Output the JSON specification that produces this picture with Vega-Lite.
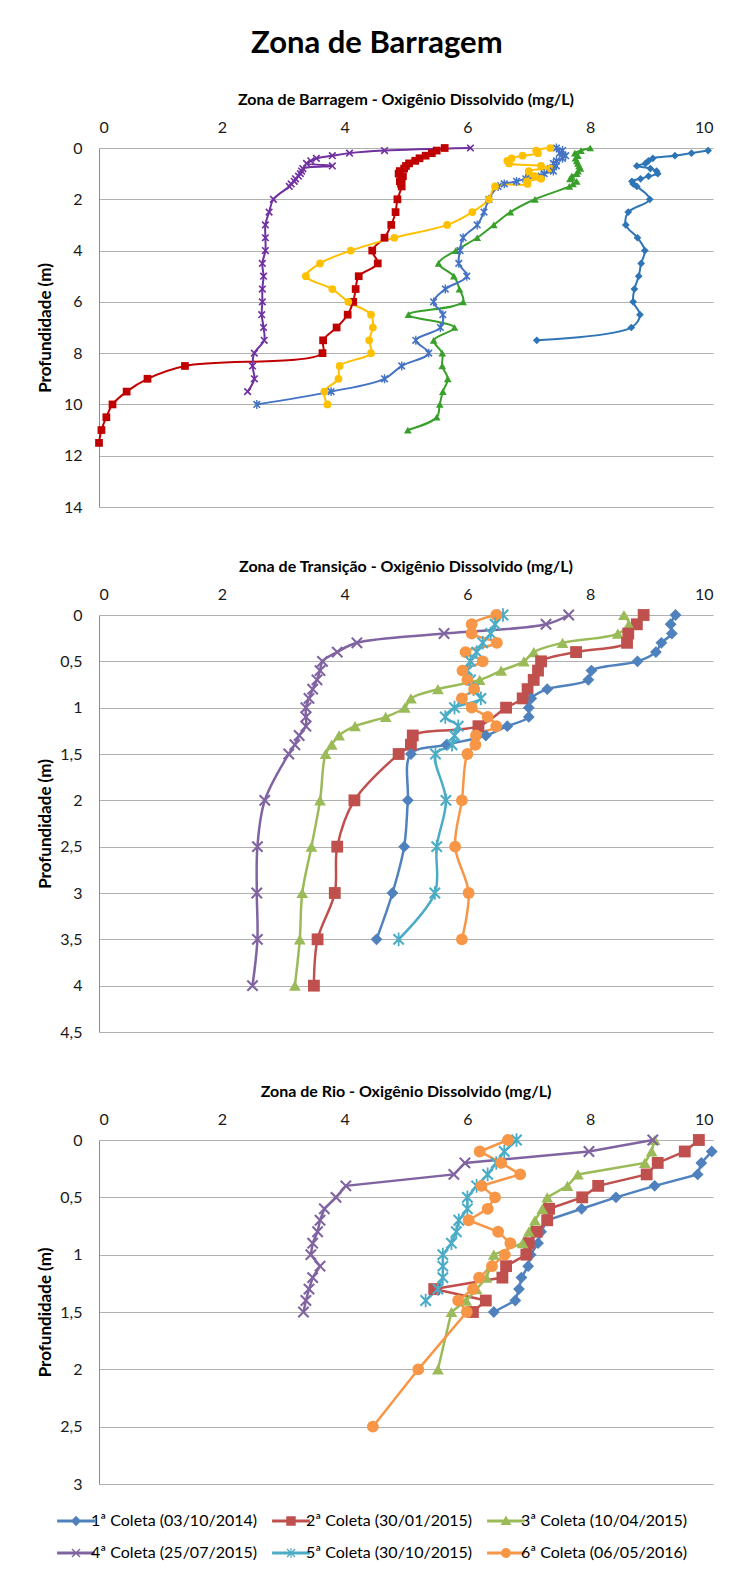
{
"$schema": "https://vega.github.io/schema/vega-lite/v6.json",
"padding": {"left": 36, "top": 28, "right": 10, "bottom": 10},
"title": {"text": "Zona de Barragem", "font": "Lato", "fontSize": 31, "fontWeight": "bold", "color": "#000", "anchor": "middle", "frame": "bounds", "offset": 32},
"spacing": 44,
"resolve": {"scale": {"color": "independent", "shape": "independent"}},
"datasets": {
"barragem": [
{"s":"1ª Coleta (03/10/2014)","p":0.1,"v":9.92},{"s":"1ª Coleta (03/10/2014)","p":0.2,"v":9.65},{"s":"1ª Coleta (03/10/2014)","p":0.3,"v":9.38},{"s":"1ª Coleta (03/10/2014)","p":0.4,"v":9.02},{"s":"1ª Coleta (03/10/2014)","p":0.5,"v":8.95},{"s":"1ª Coleta (03/10/2014)","p":0.6,"v":8.9},{"s":"1ª Coleta (03/10/2014)","p":0.7,"v":8.76},{"s":"1ª Coleta (03/10/2014)","p":0.8,"v":8.98},{"s":"1ª Coleta (03/10/2014)","p":0.9,"v":9.08},{"s":"1ª Coleta (03/10/2014)","p":1.0,"v":9.1},{"s":"1ª Coleta (03/10/2014)","p":1.1,"v":8.95},{"s":"1ª Coleta (03/10/2014)","p":1.2,"v":8.82},{"s":"1ª Coleta (03/10/2014)","p":1.3,"v":8.68},{"s":"1ª Coleta (03/10/2014)","p":1.4,"v":8.7},{"s":"1ª Coleta (03/10/2014)","p":1.5,"v":8.76},{"s":"1ª Coleta (03/10/2014)","p":2.0,"v":8.97},{"s":"1ª Coleta (03/10/2014)","p":2.5,"v":8.62},{"s":"1ª Coleta (03/10/2014)","p":3.0,"v":8.58},{"s":"1ª Coleta (03/10/2014)","p":3.5,"v":8.77},{"s":"1ª Coleta (03/10/2014)","p":4.0,"v":8.89},{"s":"1ª Coleta (03/10/2014)","p":4.5,"v":8.83},{"s":"1ª Coleta (03/10/2014)","p":5.0,"v":8.79},{"s":"1ª Coleta (03/10/2014)","p":5.5,"v":8.72},{"s":"1ª Coleta (03/10/2014)","p":6.0,"v":8.7},{"s":"1ª Coleta (03/10/2014)","p":6.5,"v":8.81},{"s":"1ª Coleta (03/10/2014)","p":7.0,"v":8.67},{"s":"1ª Coleta (03/10/2014)","p":7.5,"v":7.13},
{"s":"2ª Coleta (30/01/2015)","p":0,"v":5.63},{"s":"2ª Coleta (30/01/2015)","p":0.1,"v":5.5},{"s":"2ª Coleta (30/01/2015)","p":0.2,"v":5.42},{"s":"2ª Coleta (30/01/2015)","p":0.3,"v":5.32},{"s":"2ª Coleta (30/01/2015)","p":0.4,"v":5.22},{"s":"2ª Coleta (30/01/2015)","p":0.5,"v":5.15},{"s":"2ª Coleta (30/01/2015)","p":0.6,"v":5.05},{"s":"2ª Coleta (30/01/2015)","p":0.7,"v":5.0},{"s":"2ª Coleta (30/01/2015)","p":0.8,"v":4.97},{"s":"2ª Coleta (30/01/2015)","p":0.9,"v":4.9},{"s":"2ª Coleta (30/01/2015)","p":1.0,"v":4.88},{"s":"2ª Coleta (30/01/2015)","p":1.1,"v":4.95},{"s":"2ª Coleta (30/01/2015)","p":1.2,"v":4.93},{"s":"2ª Coleta (30/01/2015)","p":1.3,"v":4.9},{"s":"2ª Coleta (30/01/2015)","p":1.4,"v":4.92},{"s":"2ª Coleta (30/01/2015)","p":1.5,"v":4.93},{"s":"2ª Coleta (30/01/2015)","p":2.0,"v":4.86},{"s":"2ª Coleta (30/01/2015)","p":2.5,"v":4.83},{"s":"2ª Coleta (30/01/2015)","p":3.0,"v":4.76},{"s":"2ª Coleta (30/01/2015)","p":3.5,"v":4.65},{"s":"2ª Coleta (30/01/2015)","p":4.0,"v":4.45},{"s":"2ª Coleta (30/01/2015)","p":4.5,"v":4.54},{"s":"2ª Coleta (30/01/2015)","p":5.0,"v":4.23},{"s":"2ª Coleta (30/01/2015)","p":5.5,"v":4.18},{"s":"2ª Coleta (30/01/2015)","p":6.0,"v":4.14},{"s":"2ª Coleta (30/01/2015)","p":6.5,"v":4.05},{"s":"2ª Coleta (30/01/2015)","p":7.0,"v":3.87},{"s":"2ª Coleta (30/01/2015)","p":7.5,"v":3.65},{"s":"2ª Coleta (30/01/2015)","p":8.0,"v":3.64},{"s":"2ª Coleta (30/01/2015)","p":8.5,"v":1.4},{"s":"2ª Coleta (30/01/2015)","p":9.0,"v":0.79},{"s":"2ª Coleta (30/01/2015)","p":9.5,"v":0.45},{"s":"2ª Coleta (30/01/2015)","p":10.0,"v":0.22},{"s":"2ª Coleta (30/01/2015)","p":10.5,"v":0.12},{"s":"2ª Coleta (30/01/2015)","p":11.0,"v":0.04},{"s":"2ª Coleta (30/01/2015)","p":11.5,"v":0.0},
{"s":"3ª Coleta (10/04/2015)","p":0,"v":8.0},{"s":"3ª Coleta (10/04/2015)","p":0.1,"v":7.85},{"s":"3ª Coleta (10/04/2015)","p":0.2,"v":7.75},{"s":"3ª Coleta (10/04/2015)","p":0.3,"v":7.8},{"s":"3ª Coleta (10/04/2015)","p":0.4,"v":7.76},{"s":"3ª Coleta (10/04/2015)","p":0.5,"v":7.78},{"s":"3ª Coleta (10/04/2015)","p":0.6,"v":7.8},{"s":"3ª Coleta (10/04/2015)","p":0.7,"v":7.82},{"s":"3ª Coleta (10/04/2015)","p":0.8,"v":7.84},{"s":"3ª Coleta (10/04/2015)","p":0.9,"v":7.8},{"s":"3ª Coleta (10/04/2015)","p":1.0,"v":7.78},{"s":"3ª Coleta (10/04/2015)","p":1.1,"v":7.7},{"s":"3ª Coleta (10/04/2015)","p":1.2,"v":7.67},{"s":"3ª Coleta (10/04/2015)","p":1.3,"v":7.78},{"s":"3ª Coleta (10/04/2015)","p":1.4,"v":7.72},{"s":"3ª Coleta (10/04/2015)","p":1.5,"v":7.66},{"s":"3ª Coleta (10/04/2015)","p":2.0,"v":7.1},{"s":"3ª Coleta (10/04/2015)","p":2.5,"v":6.7},{"s":"3ª Coleta (10/04/2015)","p":3.0,"v":6.43},{"s":"3ª Coleta (10/04/2015)","p":3.5,"v":6.16},{"s":"3ª Coleta (10/04/2015)","p":4.0,"v":5.81},{"s":"3ª Coleta (10/04/2015)","p":4.5,"v":5.53},{"s":"3ª Coleta (10/04/2015)","p":5.0,"v":5.78},{"s":"3ª Coleta (10/04/2015)","p":5.5,"v":5.87},{"s":"3ª Coleta (10/04/2015)","p":6.0,"v":5.93},{"s":"3ª Coleta (10/04/2015)","p":6.5,"v":5.04},{"s":"3ª Coleta (10/04/2015)","p":7.0,"v":5.79},{"s":"3ª Coleta (10/04/2015)","p":7.5,"v":5.45},{"s":"3ª Coleta (10/04/2015)","p":8.0,"v":5.59},{"s":"3ª Coleta (10/04/2015)","p":8.5,"v":5.59},{"s":"3ª Coleta (10/04/2015)","p":9.0,"v":5.68},{"s":"3ª Coleta (10/04/2015)","p":9.5,"v":5.6},{"s":"3ª Coleta (10/04/2015)","p":10.0,"v":5.55},{"s":"3ª Coleta (10/04/2015)","p":10.5,"v":5.5},{"s":"3ª Coleta (10/04/2015)","p":11.0,"v":5.03},
{"s":"4ª Coleta (25/07/2015)","p":0,"v":6.05},{"s":"4ª Coleta (25/07/2015)","p":0.1,"v":4.65},{"s":"4ª Coleta (25/07/2015)","p":0.2,"v":4.08},{"s":"4ª Coleta (25/07/2015)","p":0.3,"v":3.8},{"s":"4ª Coleta (25/07/2015)","p":0.4,"v":3.54},{"s":"4ª Coleta (25/07/2015)","p":0.5,"v":3.45},{"s":"4ª Coleta (25/07/2015)","p":0.6,"v":3.38},{"s":"4ª Coleta (25/07/2015)","p":0.7,"v":3.8},{"s":"4ª Coleta (25/07/2015)","p":0.8,"v":3.32},{"s":"4ª Coleta (25/07/2015)","p":0.9,"v":3.3},{"s":"4ª Coleta (25/07/2015)","p":1.0,"v":3.28},{"s":"4ª Coleta (25/07/2015)","p":1.1,"v":3.25},{"s":"4ª Coleta (25/07/2015)","p":1.2,"v":3.2},{"s":"4ª Coleta (25/07/2015)","p":1.3,"v":3.18},{"s":"4ª Coleta (25/07/2015)","p":1.4,"v":3.13},{"s":"4ª Coleta (25/07/2015)","p":1.5,"v":3.1},{"s":"4ª Coleta (25/07/2015)","p":2.0,"v":2.84},{"s":"4ª Coleta (25/07/2015)","p":2.5,"v":2.77},{"s":"4ª Coleta (25/07/2015)","p":3.0,"v":2.71},{"s":"4ª Coleta (25/07/2015)","p":3.5,"v":2.71},{"s":"4ª Coleta (25/07/2015)","p":4.0,"v":2.71},{"s":"4ª Coleta (25/07/2015)","p":4.5,"v":2.66},{"s":"4ª Coleta (25/07/2015)","p":5.0,"v":2.68},{"s":"4ª Coleta (25/07/2015)","p":5.5,"v":2.66},{"s":"4ª Coleta (25/07/2015)","p":6.0,"v":2.66},{"s":"4ª Coleta (25/07/2015)","p":6.5,"v":2.65},{"s":"4ª Coleta (25/07/2015)","p":7.0,"v":2.68},{"s":"4ª Coleta (25/07/2015)","p":7.5,"v":2.69},{"s":"4ª Coleta (25/07/2015)","p":8.0,"v":2.53},{"s":"4ª Coleta (25/07/2015)","p":8.5,"v":2.5},{"s":"4ª Coleta (25/07/2015)","p":9.0,"v":2.53},{"s":"4ª Coleta (25/07/2015)","p":9.5,"v":2.42},
{"s":"5ª Coleta (30/10/2015)","p":0,"v":7.45},{"s":"5ª Coleta (30/10/2015)","p":0.1,"v":7.55},{"s":"5ª Coleta (30/10/2015)","p":0.2,"v":7.5},{"s":"5ª Coleta (30/10/2015)","p":0.3,"v":7.6},{"s":"5ª Coleta (30/10/2015)","p":0.4,"v":7.55},{"s":"5ª Coleta (30/10/2015)","p":0.5,"v":7.45},{"s":"5ª Coleta (30/10/2015)","p":0.6,"v":7.4},{"s":"5ª Coleta (30/10/2015)","p":0.7,"v":7.45},{"s":"5ª Coleta (30/10/2015)","p":0.8,"v":7.35},{"s":"5ª Coleta (30/10/2015)","p":0.9,"v":7.4},{"s":"5ª Coleta (30/10/2015)","p":1.0,"v":7.25},{"s":"5ª Coleta (30/10/2015)","p":1.1,"v":7.2},{"s":"5ª Coleta (30/10/2015)","p":1.2,"v":6.95},{"s":"5ª Coleta (30/10/2015)","p":1.3,"v":6.8},{"s":"5ª Coleta (30/10/2015)","p":1.4,"v":6.6},{"s":"5ª Coleta (30/10/2015)","p":1.5,"v":6.5},{"s":"5ª Coleta (30/10/2015)","p":2.0,"v":6.35},{"s":"5ª Coleta (30/10/2015)","p":2.5,"v":6.27},{"s":"5ª Coleta (30/10/2015)","p":3.0,"v":6.16},{"s":"5ª Coleta (30/10/2015)","p":3.5,"v":5.93},{"s":"5ª Coleta (30/10/2015)","p":4.0,"v":5.88},{"s":"5ª Coleta (30/10/2015)","p":4.5,"v":5.86},{"s":"5ª Coleta (30/10/2015)","p":5.0,"v":5.99},{"s":"5ª Coleta (30/10/2015)","p":5.5,"v":5.64},{"s":"5ª Coleta (30/10/2015)","p":6.0,"v":5.45},{"s":"5ª Coleta (30/10/2015)","p":6.5,"v":5.6},{"s":"5ª Coleta (30/10/2015)","p":7.0,"v":5.56},{"s":"5ª Coleta (30/10/2015)","p":7.5,"v":5.16},{"s":"5ª Coleta (30/10/2015)","p":8.0,"v":5.37},{"s":"5ª Coleta (30/10/2015)","p":8.5,"v":4.93},{"s":"5ª Coleta (30/10/2015)","p":9.0,"v":4.65},{"s":"5ª Coleta (30/10/2015)","p":9.5,"v":3.78},{"s":"5ª Coleta (30/10/2015)","p":10.0,"v":2.57},
{"s":"6ª Coleta (06/05/2016)","p":0,"v":7.35},{"s":"6ª Coleta (06/05/2016)","p":0.1,"v":7.12},{"s":"6ª Coleta (06/05/2016)","p":0.2,"v":7.15},{"s":"6ª Coleta (06/05/2016)","p":0.3,"v":6.9},{"s":"6ª Coleta (06/05/2016)","p":0.4,"v":6.72},{"s":"6ª Coleta (06/05/2016)","p":0.5,"v":6.65},{"s":"6ª Coleta (06/05/2016)","p":0.6,"v":6.68},{"s":"6ª Coleta (06/05/2016)","p":0.7,"v":7.2},{"s":"6ª Coleta (06/05/2016)","p":0.8,"v":7.35},{"s":"6ª Coleta (06/05/2016)","p":0.9,"v":7.0},{"s":"6ª Coleta (06/05/2016)","p":1.0,"v":7.0},{"s":"6ª Coleta (06/05/2016)","p":1.1,"v":7.1},{"s":"6ª Coleta (06/05/2016)","p":1.2,"v":7.2},{"s":"6ª Coleta (06/05/2016)","p":1.3,"v":6.97},{"s":"6ª Coleta (06/05/2016)","p":1.4,"v":6.98},{"s":"6ª Coleta (06/05/2016)","p":1.5,"v":6.45},{"s":"6ª Coleta (06/05/2016)","p":2.0,"v":6.35},{"s":"6ª Coleta (06/05/2016)","p":2.5,"v":6.08},{"s":"6ª Coleta (06/05/2016)","p":3.0,"v":5.67},{"s":"6ª Coleta (06/05/2016)","p":3.5,"v":4.81},{"s":"6ª Coleta (06/05/2016)","p":4.0,"v":4.1},{"s":"6ª Coleta (06/05/2016)","p":4.5,"v":3.6},{"s":"6ª Coleta (06/05/2016)","p":5.0,"v":3.37},{"s":"6ª Coleta (06/05/2016)","p":5.5,"v":3.8},{"s":"6ª Coleta (06/05/2016)","p":6.0,"v":4.06},{"s":"6ª Coleta (06/05/2016)","p":6.5,"v":4.43},{"s":"6ª Coleta (06/05/2016)","p":7.0,"v":4.46},{"s":"6ª Coleta (06/05/2016)","p":7.5,"v":4.4},{"s":"6ª Coleta (06/05/2016)","p":8.0,"v":4.43},{"s":"6ª Coleta (06/05/2016)","p":8.5,"v":3.92},{"s":"6ª Coleta (06/05/2016)","p":9.0,"v":3.9},{"s":"6ª Coleta (06/05/2016)","p":9.5,"v":3.67},{"s":"6ª Coleta (06/05/2016)","p":10.0,"v":3.72}
],
"transicao": [
{"s":"1ª Coleta (03/10/2014)","p":0,"v":9.39},{"s":"1ª Coleta (03/10/2014)","p":0.1,"v":9.31},{"s":"1ª Coleta (03/10/2014)","p":0.2,"v":9.33},{"s":"1ª Coleta (03/10/2014)","p":0.3,"v":9.16},{"s":"1ª Coleta (03/10/2014)","p":0.4,"v":9.07},{"s":"1ª Coleta (03/10/2014)","p":0.5,"v":8.77},{"s":"1ª Coleta (03/10/2014)","p":0.6,"v":8.02},{"s":"1ª Coleta (03/10/2014)","p":0.7,"v":7.97},{"s":"1ª Coleta (03/10/2014)","p":0.8,"v":7.3},{"s":"1ª Coleta (03/10/2014)","p":0.9,"v":7.04},{"s":"1ª Coleta (03/10/2014)","p":1.0,"v":7.0},{"s":"1ª Coleta (03/10/2014)","p":1.1,"v":7.0},{"s":"1ª Coleta (03/10/2014)","p":1.2,"v":6.65},{"s":"1ª Coleta (03/10/2014)","p":1.3,"v":6.3},{"s":"1ª Coleta (03/10/2014)","p":1.4,"v":5.66},{"s":"1ª Coleta (03/10/2014)","p":1.5,"v":5.08},{"s":"1ª Coleta (03/10/2014)","p":2.0,"v":5.03},{"s":"1ª Coleta (03/10/2014)","p":2.5,"v":4.97},{"s":"1ª Coleta (03/10/2014)","p":3.0,"v":4.78},{"s":"1ª Coleta (03/10/2014)","p":3.5,"v":4.52},
{"s":"2ª Coleta (30/01/2015)","p":0,"v":8.87},{"s":"2ª Coleta (30/01/2015)","p":0.1,"v":8.76},{"s":"2ª Coleta (30/01/2015)","p":0.2,"v":8.62},{"s":"2ª Coleta (30/01/2015)","p":0.3,"v":8.6},{"s":"2ª Coleta (30/01/2015)","p":0.4,"v":7.77},{"s":"2ª Coleta (30/01/2015)","p":0.5,"v":7.2},{"s":"2ª Coleta (30/01/2015)","p":0.6,"v":7.15},{"s":"2ª Coleta (30/01/2015)","p":0.7,"v":7.08},{"s":"2ª Coleta (30/01/2015)","p":0.8,"v":6.98},{"s":"2ª Coleta (30/01/2015)","p":0.9,"v":6.9},{"s":"2ª Coleta (30/01/2015)","p":1.0,"v":6.63},{"s":"2ª Coleta (30/01/2015)","p":1.2,"v":6.18},{"s":"2ª Coleta (30/01/2015)","p":1.3,"v":5.11},{"s":"2ª Coleta (30/01/2015)","p":1.4,"v":5.08},{"s":"2ª Coleta (30/01/2015)","p":1.5,"v":4.88},{"s":"2ª Coleta (30/01/2015)","p":2.0,"v":4.16},{"s":"2ª Coleta (30/01/2015)","p":2.5,"v":3.88},{"s":"2ª Coleta (30/01/2015)","p":3.0,"v":3.84},{"s":"2ª Coleta (30/01/2015)","p":3.5,"v":3.56},{"s":"2ª Coleta (30/01/2015)","p":4.0,"v":3.5},
{"s":"3ª Coleta (10/04/2015)","p":0,"v":8.55},{"s":"3ª Coleta (10/04/2015)","p":0.1,"v":8.63},{"s":"3ª Coleta (10/04/2015)","p":0.2,"v":8.45},{"s":"3ª Coleta (10/04/2015)","p":0.3,"v":7.55},{"s":"3ª Coleta (10/04/2015)","p":0.4,"v":7.08},{"s":"3ª Coleta (10/04/2015)","p":0.5,"v":6.92},{"s":"3ª Coleta (10/04/2015)","p":0.6,"v":6.55},{"s":"3ª Coleta (10/04/2015)","p":0.7,"v":6.2},{"s":"3ª Coleta (10/04/2015)","p":0.8,"v":5.52},{"s":"3ª Coleta (10/04/2015)","p":0.9,"v":5.08},{"s":"3ª Coleta (10/04/2015)","p":1.0,"v":4.98},{"s":"3ª Coleta (10/04/2015)","p":1.1,"v":4.67},{"s":"3ª Coleta (10/04/2015)","p":1.2,"v":4.17},{"s":"3ª Coleta (10/04/2015)","p":1.3,"v":3.91},{"s":"3ª Coleta (10/04/2015)","p":1.4,"v":3.79},{"s":"3ª Coleta (10/04/2015)","p":1.5,"v":3.69},{"s":"3ª Coleta (10/04/2015)","p":2.0,"v":3.6},{"s":"3ª Coleta (10/04/2015)","p":2.5,"v":3.46},{"s":"3ª Coleta (10/04/2015)","p":3.0,"v":3.31},{"s":"3ª Coleta (10/04/2015)","p":3.5,"v":3.27},{"s":"3ª Coleta (10/04/2015)","p":4.0,"v":3.19},
{"s":"4ª Coleta (25/07/2015)","p":0,"v":7.65},{"s":"4ª Coleta (25/07/2015)","p":0.1,"v":7.28},{"s":"4ª Coleta (25/07/2015)","p":0.2,"v":5.62},{"s":"4ª Coleta (25/07/2015)","p":0.3,"v":4.2},{"s":"4ª Coleta (25/07/2015)","p":0.4,"v":3.88},{"s":"4ª Coleta (25/07/2015)","p":0.5,"v":3.64},{"s":"4ª Coleta (25/07/2015)","p":0.6,"v":3.6},{"s":"4ª Coleta (25/07/2015)","p":0.7,"v":3.55},{"s":"4ª Coleta (25/07/2015)","p":0.8,"v":3.48},{"s":"4ª Coleta (25/07/2015)","p":0.9,"v":3.42},{"s":"4ª Coleta (25/07/2015)","p":1.0,"v":3.37},{"s":"4ª Coleta (25/07/2015)","p":1.1,"v":3.37},{"s":"4ª Coleta (25/07/2015)","p":1.2,"v":3.37},{"s":"4ª Coleta (25/07/2015)","p":1.3,"v":3.26},{"s":"4ª Coleta (25/07/2015)","p":1.4,"v":3.19},{"s":"4ª Coleta (25/07/2015)","p":1.5,"v":3.09},{"s":"4ª Coleta (25/07/2015)","p":2.0,"v":2.7},{"s":"4ª Coleta (25/07/2015)","p":2.5,"v":2.58},{"s":"4ª Coleta (25/07/2015)","p":3.0,"v":2.57},{"s":"4ª Coleta (25/07/2015)","p":3.5,"v":2.58},{"s":"4ª Coleta (25/07/2015)","p":4.0,"v":2.5},
{"s":"5ª Coleta (30/10/2015)","p":0,"v":6.58},{"s":"5ª Coleta (30/10/2015)","p":0.1,"v":6.45},{"s":"5ª Coleta (30/10/2015)","p":0.2,"v":6.38},{"s":"5ª Coleta (30/10/2015)","p":0.3,"v":6.25},{"s":"5ª Coleta (30/10/2015)","p":0.4,"v":6.15},{"s":"5ª Coleta (30/10/2015)","p":0.5,"v":6.05},{"s":"5ª Coleta (30/10/2015)","p":0.6,"v":6.0},{"s":"5ª Coleta (30/10/2015)","p":0.7,"v":6.05},{"s":"5ª Coleta (30/10/2015)","p":0.8,"v":6.1},{"s":"5ª Coleta (30/10/2015)","p":0.9,"v":6.22},{"s":"5ª Coleta (30/10/2015)","p":1.0,"v":5.79},{"s":"5ª Coleta (30/10/2015)","p":1.1,"v":5.64},{"s":"5ª Coleta (30/10/2015)","p":1.2,"v":5.85},{"s":"5ª Coleta (30/10/2015)","p":1.3,"v":5.79},{"s":"5ª Coleta (30/10/2015)","p":1.4,"v":5.75},{"s":"5ª Coleta (30/10/2015)","p":1.5,"v":5.48},{"s":"5ª Coleta (30/10/2015)","p":2.0,"v":5.65},{"s":"5ª Coleta (30/10/2015)","p":2.5,"v":5.5},{"s":"5ª Coleta (30/10/2015)","p":3.0,"v":5.47},{"s":"5ª Coleta (30/10/2015)","p":3.5,"v":4.88},
{"s":"6ª Coleta (06/05/2016)","p":0,"v":6.47},{"s":"6ª Coleta (06/05/2016)","p":0.1,"v":6.07},{"s":"6ª Coleta (06/05/2016)","p":0.2,"v":6.07},{"s":"6ª Coleta (06/05/2016)","p":0.3,"v":6.48},{"s":"6ª Coleta (06/05/2016)","p":0.4,"v":5.97},{"s":"6ª Coleta (06/05/2016)","p":0.5,"v":6.25},{"s":"6ª Coleta (06/05/2016)","p":0.6,"v":5.92},{"s":"6ª Coleta (06/05/2016)","p":0.7,"v":6.0},{"s":"6ª Coleta (06/05/2016)","p":0.8,"v":6.11},{"s":"6ª Coleta (06/05/2016)","p":0.9,"v":5.91},{"s":"6ª Coleta (06/05/2016)","p":1.0,"v":6.07},{"s":"6ª Coleta (06/05/2016)","p":1.1,"v":6.33},{"s":"6ª Coleta (06/05/2016)","p":1.2,"v":6.47},{"s":"6ª Coleta (06/05/2016)","p":1.3,"v":6.14},{"s":"6ª Coleta (06/05/2016)","p":1.4,"v":6.13},{"s":"6ª Coleta (06/05/2016)","p":1.5,"v":6.0},{"s":"6ª Coleta (06/05/2016)","p":2.0,"v":5.91},{"s":"6ª Coleta (06/05/2016)","p":2.5,"v":5.8},{"s":"6ª Coleta (06/05/2016)","p":3.0,"v":6.02},{"s":"6ª Coleta (06/05/2016)","p":3.5,"v":5.91}
],
"rio": [
{"s":"1ª Coleta (03/10/2014)","p":0.1,"v":9.98},{"s":"1ª Coleta (03/10/2014)","p":0.2,"v":9.81},{"s":"1ª Coleta (03/10/2014)","p":0.3,"v":9.75},{"s":"1ª Coleta (03/10/2014)","p":0.4,"v":9.05},{"s":"1ª Coleta (03/10/2014)","p":0.5,"v":8.42},{"s":"1ª Coleta (03/10/2014)","p":0.6,"v":7.86},{"s":"1ª Coleta (03/10/2014)","p":0.7,"v":7.3},{"s":"1ª Coleta (03/10/2014)","p":0.8,"v":7.2},{"s":"1ª Coleta (03/10/2014)","p":0.9,"v":7.15},{"s":"1ª Coleta (03/10/2014)","p":1.0,"v":7.03},{"s":"1ª Coleta (03/10/2014)","p":1.1,"v":6.99},{"s":"1ª Coleta (03/10/2014)","p":1.2,"v":6.88},{"s":"1ª Coleta (03/10/2014)","p":1.3,"v":6.84},{"s":"1ª Coleta (03/10/2014)","p":1.4,"v":6.78},{"s":"1ª Coleta (03/10/2014)","p":1.5,"v":6.43},
{"s":"2ª Coleta (30/01/2015)","p":0,"v":9.77},{"s":"2ª Coleta (30/01/2015)","p":0.1,"v":9.54},{"s":"2ª Coleta (30/01/2015)","p":0.2,"v":9.1},{"s":"2ª Coleta (30/01/2015)","p":0.3,"v":8.92},{"s":"2ª Coleta (30/01/2015)","p":0.4,"v":8.13},{"s":"2ª Coleta (30/01/2015)","p":0.5,"v":7.87},{"s":"2ª Coleta (30/01/2015)","p":0.6,"v":7.33},{"s":"2ª Coleta (30/01/2015)","p":0.7,"v":7.3},{"s":"2ª Coleta (30/01/2015)","p":0.8,"v":7.13},{"s":"2ª Coleta (30/01/2015)","p":0.9,"v":7.0},{"s":"2ª Coleta (30/01/2015)","p":1.0,"v":6.96},{"s":"2ª Coleta (30/01/2015)","p":1.1,"v":6.63},{"s":"2ª Coleta (30/01/2015)","p":1.2,"v":6.57},{"s":"2ª Coleta (30/01/2015)","p":1.3,"v":5.46},{"s":"2ª Coleta (30/01/2015)","p":1.4,"v":6.3},{"s":"2ª Coleta (30/01/2015)","p":1.5,"v":6.09},
{"s":"3ª Coleta (10/04/2015)","p":0,"v":9.05},{"s":"3ª Coleta (10/04/2015)","p":0.1,"v":9.0},{"s":"3ª Coleta (10/04/2015)","p":0.2,"v":8.89},{"s":"3ª Coleta (10/04/2015)","p":0.3,"v":7.8},{"s":"3ª Coleta (10/04/2015)","p":0.4,"v":7.63},{"s":"3ª Coleta (10/04/2015)","p":0.5,"v":7.3},{"s":"3ª Coleta (10/04/2015)","p":0.6,"v":7.22},{"s":"3ª Coleta (10/04/2015)","p":0.7,"v":7.1},{"s":"3ª Coleta (10/04/2015)","p":0.8,"v":7.0},{"s":"3ª Coleta (10/04/2015)","p":0.9,"v":6.9},{"s":"3ª Coleta (10/04/2015)","p":1.0,"v":6.43},{"s":"3ª Coleta (10/04/2015)","p":1.1,"v":6.38},{"s":"3ª Coleta (10/04/2015)","p":1.2,"v":6.31},{"s":"3ª Coleta (10/04/2015)","p":1.3,"v":6.15},{"s":"3ª Coleta (10/04/2015)","p":1.4,"v":5.98},{"s":"3ª Coleta (10/04/2015)","p":1.5,"v":5.74},{"s":"3ª Coleta (10/04/2015)","p":2.0,"v":5.52},
{"s":"4ª Coleta (25/07/2015)","p":0,"v":9.02},{"s":"4ª Coleta (25/07/2015)","p":0.1,"v":7.98},{"s":"4ª Coleta (25/07/2015)","p":0.2,"v":5.96},{"s":"4ª Coleta (25/07/2015)","p":0.3,"v":5.78},{"s":"4ª Coleta (25/07/2015)","p":0.4,"v":4.02},{"s":"4ª Coleta (25/07/2015)","p":0.5,"v":3.86},{"s":"4ª Coleta (25/07/2015)","p":0.6,"v":3.67},{"s":"4ª Coleta (25/07/2015)","p":0.7,"v":3.6},{"s":"4ª Coleta (25/07/2015)","p":0.8,"v":3.56},{"s":"4ª Coleta (25/07/2015)","p":0.9,"v":3.48},{"s":"4ª Coleta (25/07/2015)","p":1.0,"v":3.45},{"s":"4ª Coleta (25/07/2015)","p":1.1,"v":3.6},{"s":"4ª Coleta (25/07/2015)","p":1.2,"v":3.48},{"s":"4ª Coleta (25/07/2015)","p":1.3,"v":3.42},{"s":"4ª Coleta (25/07/2015)","p":1.4,"v":3.37},{"s":"4ª Coleta (25/07/2015)","p":1.5,"v":3.33},
{"s":"5ª Coleta (30/10/2015)","p":0,"v":6.8},{"s":"5ª Coleta (30/10/2015)","p":0.1,"v":6.6},{"s":"5ª Coleta (30/10/2015)","p":0.2,"v":6.47},{"s":"5ª Coleta (30/10/2015)","p":0.3,"v":6.33},{"s":"5ª Coleta (30/10/2015)","p":0.4,"v":6.15},{"s":"5ª Coleta (30/10/2015)","p":0.5,"v":6.0},{"s":"5ª Coleta (30/10/2015)","p":0.6,"v":6.0},{"s":"5ª Coleta (30/10/2015)","p":0.7,"v":5.86},{"s":"5ª Coleta (30/10/2015)","p":0.8,"v":5.82},{"s":"5ª Coleta (30/10/2015)","p":0.9,"v":5.74},{"s":"5ª Coleta (30/10/2015)","p":1.0,"v":5.6},{"s":"5ª Coleta (30/10/2015)","p":1.1,"v":5.6},{"s":"5ª Coleta (30/10/2015)","p":1.2,"v":5.6},{"s":"5ª Coleta (30/10/2015)","p":1.3,"v":5.52},{"s":"5ª Coleta (30/10/2015)","p":1.4,"v":5.32},
{"s":"6ª Coleta (06/05/2016)","p":0,"v":6.66},{"s":"6ª Coleta (06/05/2016)","p":0.1,"v":6.2},{"s":"6ª Coleta (06/05/2016)","p":0.2,"v":6.55},{"s":"6ª Coleta (06/05/2016)","p":0.3,"v":6.86},{"s":"6ª Coleta (06/05/2016)","p":0.4,"v":6.23},{"s":"6ª Coleta (06/05/2016)","p":0.5,"v":6.45},{"s":"6ª Coleta (06/05/2016)","p":0.6,"v":6.33},{"s":"6ª Coleta (06/05/2016)","p":0.7,"v":6.02},{"s":"6ª Coleta (06/05/2016)","p":0.8,"v":6.5},{"s":"6ª Coleta (06/05/2016)","p":0.9,"v":6.7},{"s":"6ª Coleta (06/05/2016)","p":1.0,"v":6.61},{"s":"6ª Coleta (06/05/2016)","p":1.1,"v":6.4},{"s":"6ª Coleta (06/05/2016)","p":1.2,"v":6.19},{"s":"6ª Coleta (06/05/2016)","p":1.3,"v":6.09},{"s":"6ª Coleta (06/05/2016)","p":1.4,"v":5.85},{"s":"6ª Coleta (06/05/2016)","p":1.5,"v":5.99},{"s":"6ª Coleta (06/05/2016)","p":2.0,"v":5.2},{"s":"6ª Coleta (06/05/2016)","p":2.5,"v":4.46}
]
},
"vconcat": [
{
"width": 614, "height": 359,
"data": {"name": "barragem"},
"title": {"text": "Zona de Barragem - Oxigênio Dissolvido (mg/L)"},
"encoding": {
"x": {"field": "v", "type": "quantitative", "scale": {"domain": [0, 10], "nice": false, "zero": false}, "axis": {"orient": "top", "values": [0,2,4,6,8,10], "title": null}},
"y": {"field": "p", "type": "quantitative", "scale": {"domain": [0, 14], "reverse": true, "nice": false}, "axis": {"values": [0,2,4,6,8,10,12,14], "title": "Profundidade (m)", "labelExpr": "replace(toString(datum.value), '.', ',')"}},
"color": {"field": "s", "type": "nominal", "scale": {"domain": ["1ª Coleta (03/10/2014)","2ª Coleta (30/01/2015)","3ª Coleta (10/04/2015)","4ª Coleta (25/07/2015)","5ª Coleta (30/10/2015)","6ª Coleta (06/05/2016)"], "range": ["#2E75B6","#C00000","#38A02A","#7030A0","#4472C4","#FFC000"]}, "legend": null},
"order": {"field": "p", "type": "quantitative"}
},
"layer": [
{"mark": {"type": "line", "interpolate": "catmull-rom", "strokeWidth": 2}},
{"mark": {"type": "point", "filled": true, "size": 60, "opacity": 1},
 "encoding": {"shape": {"field": "s", "type": "nominal", "scale": {"domain": ["1ª Coleta (03/10/2014)","2ª Coleta (30/01/2015)","3ª Coleta (10/04/2015)","4ª Coleta (25/07/2015)","5ª Coleta (30/10/2015)","6ª Coleta (06/05/2016)"], "range": ["diamond","square","triangle-up","M-1,-0.7L-0.7,-1L0,-0.3L0.7,-1L1,-0.7L0.3,0L1,0.7L0.7,1L0,0.3L-0.7,1L-1,0.7L-0.3,0Z","M-1,-0.7L-0.7,-1L0,-0.3L0.7,-1L1,-0.7L0.3,0L1,0.7L0.7,1L0,0.3L-0.7,1L-1,0.7L-0.3,0Z M-0.18,-1.15L0.18,-1.15L0.18,1.15L-0.18,1.15Z","circle"]}, "legend": null}}}
]
},
{
"width": 614, "height": 417,
"data": {"name": "transicao"},
"title": {"text": "Zona de Transição - Oxigênio Dissolvido (mg/L)"},
"encoding": {
"x": {"field": "v", "type": "quantitative", "scale": {"domain": [0, 10], "nice": false, "zero": false}, "axis": {"orient": "top", "values": [0,2,4,6,8,10], "title": null}},
"y": {"field": "p", "type": "quantitative", "scale": {"domain": [0, 4.5], "reverse": true, "nice": false}, "axis": {"values": [0,0.5,1,1.5,2,2.5,3,3.5,4,4.5], "title": "Profundidade (m)", "labelExpr": "replace(toString(datum.value), '.', ',')"}},
"color": {"field": "s", "type": "nominal", "scale": {"domain": ["1ª Coleta (03/10/2014)","2ª Coleta (30/01/2015)","3ª Coleta (10/04/2015)","4ª Coleta (25/07/2015)","5ª Coleta (30/10/2015)","6ª Coleta (06/05/2016)"], "range": ["#4F81BD","#C0504D","#9BBB59","#8064A2","#4BACC6","#F79646"]}, "legend": null},
"order": {"field": "p", "type": "quantitative"}
},
"layer": [
{"mark": {"type": "line", "interpolate": "catmull-rom", "strokeWidth": 2.5}},
{"mark": {"type": "point", "filled": true, "size": 140, "opacity": 1},
 "encoding": {"shape": {"field": "s", "type": "nominal", "scale": {"domain": ["1ª Coleta (03/10/2014)","2ª Coleta (30/01/2015)","3ª Coleta (10/04/2015)","4ª Coleta (25/07/2015)","5ª Coleta (30/10/2015)","6ª Coleta (06/05/2016)"], "range": ["diamond","square","triangle-up","M-1,-0.75L-0.75,-1L0,-0.25L0.75,-1L1,-0.75L0.25,0L1,0.75L0.75,1L0,0.25L-0.75,1L-1,0.75L-0.25,0Z","M-1,-0.75L-0.75,-1L0,-0.25L0.75,-1L1,-0.75L0.25,0L1,0.75L0.75,1L0,0.25L-0.75,1L-1,0.75L-0.25,0Z M-0.15,-1.15L0.15,-1.15L0.15,1.15L-0.15,1.15Z","circle"]}, "legend": null}}}
]
},
{
"width": 614, "height": 344,
"data": {"name": "rio"},
"title": {"text": "Zona de Rio - Oxigênio Dissolvido (mg/L)"},
"encoding": {
"x": {"field": "v", "type": "quantitative", "scale": {"domain": [0, 10], "nice": false, "zero": false}, "axis": {"orient": "top", "values": [0,2,4,6,8,10], "title": null}},
"y": {"field": "p", "type": "quantitative", "scale": {"domain": [0, 3], "reverse": true, "nice": false}, "axis": {"values": [0,0.5,1,1.5,2,2.5,3], "title": "Profundidade (m)", "labelExpr": "replace(toString(datum.value), '.', ',')"}}
},
"resolve": {"scale": {"color": "independent", "shape": "independent"}},
"layer": [
{"mark": {"type": "line", "strokeWidth": 2.5},
 "encoding": {
  "color": {"field": "s", "type": "nominal", "scale": {"domain": ["1ª Coleta (03/10/2014)","2ª Coleta (30/01/2015)","3ª Coleta (10/04/2015)","4ª Coleta (25/07/2015)","5ª Coleta (30/10/2015)","6ª Coleta (06/05/2016)"], "range": ["#4F81BD","#C0504D","#9BBB59","#8064A2","#4BACC6","#F79646"]}, "legend": null},
  "order": {"field": "p", "type": "quantitative"}}},
{"mark": {"type": "point", "filled": true, "size": 140, "opacity": 1},
 "encoding": {
  "color": {"field": "s", "type": "nominal", "scale": {"domain": ["1ª Coleta (03/10/2014)","2ª Coleta (30/01/2015)","3ª Coleta (10/04/2015)","4ª Coleta (25/07/2015)","5ª Coleta (30/10/2015)","6ª Coleta (06/05/2016)"], "range": ["#4F81BD","#C0504D","#9BBB59","#8064A2","#4BACC6","#F79646"]}, "legend": null},
  "shape": {"field": "s", "type": "nominal", "scale": {"domain": ["1ª Coleta (03/10/2014)","2ª Coleta (30/01/2015)","3ª Coleta (10/04/2015)","4ª Coleta (25/07/2015)","5ª Coleta (30/10/2015)","6ª Coleta (06/05/2016)"], "range": ["diamond","square","triangle-up","M-1,-0.75L-0.75,-1L0,-0.25L0.75,-1L1,-0.75L0.25,0L1,0.75L0.75,1L0,0.25L-0.75,1L-1,0.75L-0.25,0Z","M-1,-0.75L-0.75,-1L0,-0.25L0.75,-1L1,-0.75L0.25,0L1,0.75L0.75,1L0,0.25L-0.75,1L-1,0.75L-0.25,0Z M-0.15,-1.15L0.15,-1.15L0.15,1.15L-0.15,1.15Z","circle"]}, "legend": null}}},
{"transform": [{"filter": "datum.p < 0"}],
 "mark": {"type": "point", "filled": true, "opacity": 1},
 "encoding": {
  "color": {"field": "s", "type": "nominal", "scale": {"domain": ["1ª Coleta (03/10/2014)","2ª Coleta (30/01/2015)","3ª Coleta (10/04/2015)","4ª Coleta (25/07/2015)","5ª Coleta (30/10/2015)","6ª Coleta (06/05/2016)"], "range": ["#4F81BD","#C0504D","#9BBB59","#8064A2","#4BACC6","#F79646"]},
   "legend": {"title": null, "orient": "none", "legendX": -31, "legendY": 373, "direction": "horizontal", "columns": 3, "labelFont": "Lato", "labelFontSize": 16, "labelColor": "#000", "labelLimit": 400, "symbolSize": 81, "labelOffset": 7, "columnPadding": 14, "rowPadding": 16, "symbolStrokeWidth": 0}},
  "shape": {"field": "s", "type": "nominal", "scale": {"domain": ["1ª Coleta (03/10/2014)","2ª Coleta (30/01/2015)","3ª Coleta (10/04/2015)","4ª Coleta (25/07/2015)","5ª Coleta (30/10/2015)","6ª Coleta (06/05/2016)"], "range": [
   "M0,-1.15L1.15,0L0,1.15L-1.15,0Z M-4.2,-0.33L4.2,-0.33L4.2,0.33L-4.2,0.33Z",
   "M-1.05,-1.05L1.05,-1.05L1.05,1.05L-1.05,1.05Z M-4.2,-0.33L4.2,-0.33L4.2,0.33L-4.2,0.33Z",
   "M0,-1.2L1.2,0.9L-1.2,0.9Z M-4.2,-0.33L4.2,-0.33L4.2,0.33L-4.2,0.33Z",
   "M-1,-0.8L-0.8,-1L0,-0.2L0.8,-1L1,-0.8L0.2,0L1,0.8L0.8,1L0,0.2L-0.8,1L-1,0.8L-0.2,0Z M-4.2,-0.33L4.2,-0.33L4.2,0.33L-4.2,0.33Z",
   "M-1,-0.8L-0.8,-1L0,-0.2L0.8,-1L1,-0.8L0.2,0L1,0.8L0.8,1L0,0.2L-0.8,1L-1,0.8L-0.2,0Z M-0.12,-1.1L0.12,-1.1L0.12,1.1L-0.12,1.1Z M-4.2,-0.33L4.2,-0.33L4.2,0.33L-4.2,0.33Z",
   "M-1.1,0A1.1,1.1,0,1,1,1.1,0A1.1,1.1,0,1,1,-1.1,0Z M-4.2,-0.33L4.2,-0.33L4.2,0.33L-4.2,0.33Z"]},
   "legend": {"title": null, "orient": "none", "legendX": -31, "legendY": 373, "direction": "horizontal", "columns": 3, "labelFont": "Lato", "labelFontSize": 16, "labelColor": "#000", "labelLimit": 400, "symbolSize": 81, "labelOffset": 7, "columnPadding": 14, "rowPadding": 16, "symbolStrokeWidth": 0}}
 }}
]
}
],
"config": {
"font": "Lato",
"view": {"stroke": null},
"title": {"font": "Lato", "fontSize": 16, "fontWeight": "bold", "color": "#000", "offset": 11, "frame": "group", "anchor": "middle"},
"axis": {"labelFont": "Lato", "labelFontSize": 16, "labelColor": "#1a1a1a", "titleFont": "Lato", "titleFontSize": 17, "titleFontWeight": "bold", "titleColor": "#000"},
"axisX": {"grid": false, "domain": false, "ticks": false, "tickSize": 0, "labelPadding": 13},
"axisY": {"grid": true, "gridColor": "#B0B0B0", "gridWidth": 1, "domain": true, "domainColor": "#8C8C8C", "domainWidth": 1, "ticks": false, "tickSize": 0, "labelPadding": 17, "minExtent": 40, "maxExtent": 40, "titlePadding": 5}
}
}
